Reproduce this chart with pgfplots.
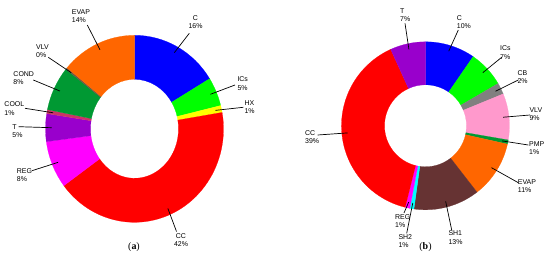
\documentclass[border=0pt]{standalone}
\usepackage{pgfplots}
\pgfplotsset{compat=1.18}
\usepackage{pgfplotstable}
\usetikzlibrary{calc}
\usepackage{fontspec}
\setmainfont{Liberation Sans}
\newfontfamily\capfont{Liberation Serif}

\definecolor{cBlue}{RGB}{0,0,255}
\definecolor{cLime}{RGB}{0,255,0}
\definecolor{cYel}{RGB}{255,255,0}
\definecolor{cRed}{RGB}{255,0,0}
\definecolor{cMag}{RGB}{255,0,255}
\definecolor{cPur}{RGB}{153,0,204}
\definecolor{cCrim}{RGB}{204,51,102}
\definecolor{cGrn}{RGB}{0,153,51}
\definecolor{cVlv}{RGB}{110,90,70}
\definecolor{cOra}{RGB}{255,102,0}
\definecolor{cGray}{RGB}{128,128,128}
\definecolor{cPink}{RGB}{255,153,204}
\definecolor{cBrown}{RGB}{102,51,51}
\definecolor{cCyan}{RGB}{0,255,255}

% share of each component (%), clockwise from the top
% tx,ty: label position, ex,ey: end of leader line (pixels, y down)
\pgfplotstableread{
name val  col   al tx    ty    ex    ey
C    16.0 cBlue c  195.5 15.5  189.3 33.3
ICs  5.0  cLime l  237.3 76.8  235.0 85.0
HX   1.2  cYel  l  244.3 100.2 243.3 107.3
CC   42.4 cRed  c  181.0 233.5 176.5 231.5
REG  8.2  cMag  l  16.7  168.2 32.0  170.7
T    4.8  cPur  l  12.3  124.2 18.7  126.7
COOL 0.7  cCrim l  4.3   101.8 25.0  108.3
COND 7.7  cGrn  l  13.3  71.5  33.3  80.0
VLV  0.3  cVlv  l  36.0  44.8  48.3  57.3
EVAP 13.7 cOra  l  71.7  9.8   87.3  25.0
}\tabA

\pgfplotstableread{
name val  col    al tx    ty    ex    ey
C    9.6  cBlue  l  456.7 15.2  458.3 30.0
ICs  7.0  cLime  l  500.0 45.8  501.7 57.3
CB   2.2  cGray  l  517.3 70.2  518.3 80.0
VLV  8.9  cPink  l  529.3 107.5 530.0 115.0
PMP  0.8  cGrn   l  529.0 141.5 528.3 145.0
EVAP 11.0 cOra   l  517.7 179.2 518.3 182.7
SH1  12.7 cBrown l  448.3 230.8 451.7 230.0
SH2  0.8  cCyan  l  398.3 234.2 406.7 233.3
REG  0.9  cMag   l  395.0 214.2 404.0 213.0
CC   39.3 cRed   l  305.0 130.2 317.7 135.0
T    6.8  cPur   l  400.0 8.5   405.0 23.3
}\tabB

\tikzset{
  lbl-l/.style={anchor=north west, align=left, inner sep=0pt,
    font=\fontsize{7}{8.2}\selectfont},
  lbl-c/.style={anchor=north, align=center, inner sep=0pt,
    font=\fontsize{7}{8.2}\selectfont},
  leader/.style={black, line width=0.7bp},
}

% #1 table, #2,#3 centre, #4,#5 outer radii, #6,#7 inner radii
\newcommand\donut[7]{%
  \pgfplotstablegetrowsof{#1}%
  \pgfmathtruncatemacro\nrows{\pgfplotsretval-1}%
  \def\angA{90}%
  \pgfplotsforeachungrouped \i in {0,...,\nrows}{%
    \pgfplotstablegetelem{\i}{name}\of{#1}\let\name\pgfplotsretval
    \pgfplotstablegetelem{\i}{val}\of{#1}\let\val\pgfplotsretval
    \pgfplotstablegetelem{\i}{col}\of{#1}\let\col\pgfplotsretval
    \pgfplotstablegetelem{\i}{al}\of{#1}\let\al\pgfplotsretval
    \pgfplotstablegetelem{\i}{tx}\of{#1}\let\tx\pgfplotsretval
    \pgfplotstablegetelem{\i}{ty}\of{#1}\let\ty\pgfplotsretval
    \pgfplotstablegetelem{\i}{ex}\of{#1}\let\ex\pgfplotsretval
    \pgfplotstablegetelem{\i}{ey}\of{#1}\let\ey\pgfplotsretval
    \pgfmathsetmacro\angB{\angA-3.6*\val}%
    \pgfmathsetmacro\angM{(\angA+\angB)/2}%
    \pgfmathsetmacro\lRx{0.93*#4}%
    \pgfmathsetmacro\lRy{0.93*#5}%
    \pgfmathsetmacro\tyy{266-\ty}%
    \pgfmathsetmacro\eyy{266-\ey}%
    \pgfmathtruncatemacro\pct{round(\val)}%
    \edef\cmd{\noexpand\fill[\col, draw=\col, line width=0.2bp]
      ($(axis cs:#2,#3)+(\angA:#4bp and #5bp)$)
      arc[start angle=\angA, end angle=\angB, x radius=#4bp, y radius=#5bp]
      -- ($(axis cs:#2,#3)+(\angB:#6bp and #7bp)$)
      arc[start angle=\angB, end angle=\angA, x radius=#6bp, y radius=#7bp]
      -- cycle;}%
    \cmd
    \edef\cmd{\noexpand\draw[leader]
      ($(axis cs:#2,#3)+(\angM:\lRx bp and \lRy bp)$) -- (axis cs:\ex,\eyy);}%
    \cmd
    \edef\cmd{\noexpand\node[lbl-\al] at (axis cs:\tx,\tyy)
      {\name\noexpand\\\pct\noexpand\%};}%
    \cmd
    \let\angA\angB
  }%
}

\begin{document}
\begin{tikzpicture}
\useasboundingbox (0,0) rectangle (550bp,266bp);
\begin{axis}[
    x=1bp, y=1bp,
    xmin=0, xmax=550, ymin=0, ymax=266,
    scale only axis,
    hide axis,
    clip=false,
]
\donut{\tabA}{134.5}{137.2}{89}{93.5}{44}{49.5}
\donut{\tabB}{425.5}{140.2}{84}{84}{41}{41}
\node[font=\capfont\fontsize{10}{11}\selectfont] at (axis cs:134,19) {(\textbf{a})};
\node[font=\capfont\fontsize{10}{11}\selectfont] at (axis cs:425.5,19) {(\textbf{b})};
\end{axis}
\end{tikzpicture}
\end{document}
